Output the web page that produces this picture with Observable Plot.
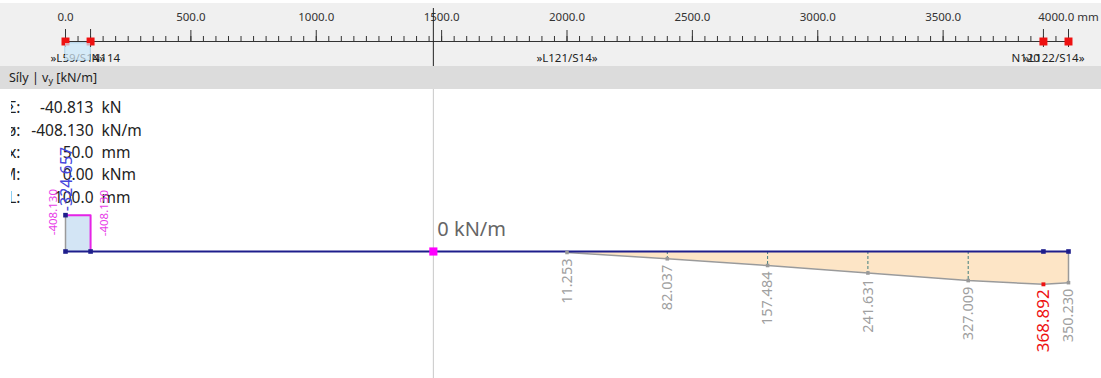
<!DOCTYPE html>
<html><head><meta charset="utf-8">
<script src="https://cdn.jsdelivr.net/npm/d3@7"></script>
<script src="https://cdn.jsdelivr.net/npm/@observablehq/plot@0.6"></script>
<style>
html,body{margin:0;padding:0;background:#fff;}
#wrap{position:relative;width:1101px;height:378px;overflow:hidden;font-family:"Noto Sans",sans-serif;}
#ruler{position:absolute;left:0;top:3px;width:1101px;height:63px;background:#f0f0f0;}
#band{position:absolute;left:0;top:66px;width:1101px;height:23px;background:#dcdcdc;font-size:12.5px;color:#222;line-height:23px;padding-left:9px;box-sizing:border-box;}
#band sub{font-size:9px;vertical-align:-2px;line-height:0;}
#chart{position:absolute;left:0;top:89px;}
#cover{position:absolute;left:0;top:94px;width:11px;height:114px;background:#fff;}
svg{overflow:visible;}
</style></head>
<body>
<div id="wrap">
  <div id="ruler"></div>
  <div id="band">Síly | v<sub>y</sub> [kN/m]</div>
  <div id="chart"></div>
  <div id="cover"></div>
</div>
<script>
// ---- data ----
const majorTicks = [0, 500, 1000, 1500, 2000, 2500, 3000, 3500, 4000];
const minorTicks = d3.range(0, 4001, 50);
const nodePos = [0, 100, 3900, 4000];
const segLabelText = ["»L59/S14»", "N114", "»L121/S14»", "N120", "»L122/S14»"];
const segLabelPos = [0, 100, 2000, 3900, 4000];
const cursorX = 1467;

const blueX = [0, 100];
const blueValue = -408.130;
const blueExtremeLabel = "-324.657";

const orangeX = [2000, 2400, 2800, 3200, 3600, 3900, 4000];
const orangeV = [11.253, 82.037, 157.484, 241.631, 327.009, 368.892, 350.230];
const orangeMaxIndex = 5;

const infoLabels = ["Σ:", "ø:", "x:", "M:", "L:"];
const infoValues = ["-40.813", "-408.130", "50.0", "0.00", "100.0"];
const infoUnits = ["kN", "kN/m", "mm", "kNm", "mm"];

// ---- derived tables ----
const orange = orangeX.map((x, i) => ({x, v: orangeV[i], i}));
const blue = [{x1: blueX[0], x2: blueX[1], v: blueValue}];
const segLabels = segLabelText.map((t, i) => ({t, x: segLabelPos[i]}));
const fmt = d => d.toFixed(3);

// ---- ruler ----
const ruler = Plot.plot({
  width: 1101, height: 63, marginLeft: 65, marginRight: 33, marginTop: 38, marginBottom: 0,
  style: {background: "transparent", fontFamily: "Noto Sans, sans-serif", overflow: "visible"},
  x: {domain: [0, 4000], label: null},
  marks: [
    Plot.rect(blue, {x1: "x1", x2: "x2", insetTop: 2, insetBottom: 6, fill: "#cfe6f7", fillOpacity: 0.85, stroke: "#8cbfe2"}),
    Plot.frame({anchor: "top", stroke: "#333"}),
    Plot.axisX(minorTicks, {anchor: "top", tickSize: 6, tickFormat: () => "", color: "#333", label: null}),
    Plot.axisX(majorTicks, {anchor: "top", tickSize: 12, tickPadding: 9, fontSize: 11.5, color: "#333", label: null,
      tickFormat: d => d === 4000 ? "4000.0 mm" : d.toFixed(1)}),
    Plot.ruleX(nodePos, {stroke: "#333", insetTop: -12, insetBottom: 19}),
    Plot.ruleX([cursorX], {stroke: "#222", insetTop: -33}),
    Plot.dot(nodePos, {x: d => d, frameAnchor: "top", symbol: "square", fill: "#ee1111", r: 4.5}),
    Plot.text(segLabels.filter(d => d.t === "»L59/S14»"), {x: "x", text: "t", frameAnchor: "top", dy: 12, dx: -15, textAnchor: "start", fontSize: 11.5, fill: "#222"}),
    Plot.rect(blue, {x1: "x1", x2: "x2", insetTop: 2, insetBottom: 6, fill: "#d6ebf8", fillOpacity: 0.7}),
    Plot.text(segLabels.filter(d => d.t === "N114"), {x: "x", text: "t", frameAnchor: "top", dy: 12, dx: 1, textAnchor: "start", fontSize: 11.5, fill: "#222"}),
    Plot.text(segLabels.filter(d => d.t === "»L121/S14»"), {x: "x", text: "t", frameAnchor: "top", dy: 12, textAnchor: "middle", fontSize: 11.5, fill: "#222"}),
    Plot.text(segLabels.filter(d => d.t === "N120"), {x: "x", text: "t", frameAnchor: "top", dy: 12, dx: -32, textAnchor: "start", fontSize: 11.5, fill: "#222"}),
    Plot.text(segLabels.filter(d => d.t === "»L122/S14»"), {x: "x", text: "t", frameAnchor: "top", dy: 12, dx: 16, textAnchor: "end", fontSize: 11.5, fill: "#222"})
  ]
});
document.getElementById("ruler").appendChild(ruler);

// ---- chart ----
const navy = "#1e1e8c";
const chart = Plot.plot({
  width: 1101, height: 289, marginLeft: 65, marginRight: 33, marginTop: 0, marginBottom: 0,
  style: {background: "transparent", fontFamily: "Noto Sans, sans-serif", overflow: "visible"},
  x: {domain: [0, 4000], axis: null},
  y: {domain: [-1820, 1427], range: [0, 289], axis: null},
  marks: [
    Plot.ruleX([cursorX], {stroke: "#c8c8c8"}),
    // info panel
    Plot.text([infoLabels.join("\n")], {frameAnchor: "top-left", dx: -45, dy: 8, textAnchor: "end", lineAnchor: "top", lineHeight: 1.44, fontSize: 15.5, fill: "#222"}),
    Plot.text([infoValues.join("\n")], {frameAnchor: "top-left", dx: 28, dy: 8, textAnchor: "end", lineAnchor: "top", lineHeight: 1.44, fontSize: 15.5, fill: "#222"}),
    Plot.text([infoUnits.join("\n")], {frameAnchor: "top-left", dx: 36, dy: 8, textAnchor: "start", lineAnchor: "top", lineHeight: 1.44, fontSize: 15.5, fill: "#222"}),
    // blue segment
    Plot.rect(blue, {x1: "x1", x2: "x2", y1: "v", y2: 0, fill: "#d3e5f5"}),
    Plot.ruleX(blue, {x: "x1", y1: "v", y2: 0, stroke: "#9a9a9a", strokeWidth: 1.5}),
    Plot.line([{x: blueX[0], v: blueValue}, {x: blueX[1], v: blueValue}, {x: blueX[1], v: 0}], {x: "x", y: "v", stroke: "#e623e6", strokeWidth: 2}),
    // orange segment
    Plot.areaY(orange, {x: "x", y1: 0, y2: "v", fill: "#fde5c6"}),
    Plot.ruleX(orange.filter(d => d.i > 0 && d.i < orangeMaxIndex), {x: "x", y1: 0, y2: "v", stroke: "#3f7d7d", strokeDasharray: "3,2"}),
    Plot.line(orange, {x: "x", y: "v", stroke: "#9a9a9a", strokeWidth: 1.5}),
    Plot.ruleX(orange.slice(-1), {x: "x", y1: 0, y2: "v", stroke: "#9a9a9a", strokeWidth: 1.5}),
    // beam
    Plot.ruleY([0], {x1: 0, x2: 4000, stroke: navy, strokeWidth: 2}),
    Plot.dot(orange.filter(d => d.i !== orangeMaxIndex), {x: "x", y: "v", symbol: "square", fill: "#999", r: 2}),
    Plot.dot(orange.filter(d => d.i === orangeMaxIndex), {x: "x", y: "v", symbol: "square", fill: "#ee1111", r: 2.2}),
    Plot.dot(nodePos, {x: d => d, y: 0, symbol: "square", fill: navy, r: 2.6}),
    Plot.dot(blue, {x: "x1", y: "v", symbol: "square", fill: navy, r: 2.6}),
    Plot.dot([cursorX], {x: d => d, y: 0, symbol: "square", fill: "#ff00ff", r: 4.6}),
    // labels
    Plot.text(orange.filter(d => d.i !== orangeMaxIndex), {x: "x", y: "v", text: d => fmt(d.v), rotate: -90, textAnchor: "end", dy: 6, fontSize: 14.5, fill: "#a0a0a0"}),
    Plot.text(orange.filter(d => d.i === orangeMaxIndex), {x: "x", y: "v", text: d => fmt(d.v), rotate: -90, textAnchor: "end", dy: 5, fontSize: 17, fill: "#ee1111"}),
    Plot.text(blue, {x: "x1", y: "v", text: d => fmt(d.v), rotate: -90, textAnchor: "middle", dx: -12.5, dy: -3, fontSize: 11.5, fill: "#e83ee8"}),
    Plot.text(blue, {x: "x2", y: "v", text: d => fmt(d.v), rotate: -90, textAnchor: "middle", dx: 13.5, dy: -2, fontSize: 11.5, fill: "#e83ee8"}),
    Plot.text(blue, {x: "x1", y: "v", text: () => blueExtremeLabel, rotate: -90, textAnchor: "start", dx: 1, dy: -4, fontSize: 16, fill: "#4646dc"}),
    Plot.text([cursorX], {x: d => d, y: 0, text: () => "0 kN/m", dx: 4, dy: -22, textAnchor: "start", fontSize: 20, fill: "#666", ariaLabel: "cursor-value"})
  ]
});
document.getElementById("chart").appendChild(chart);

// background box behind the cursor value label
(function () {
  const g = d3.select(chart).select('g[aria-label="cursor-value"]');
  const t = g.select("text").node();
  if (!t) return;
  const sr = chart.getBoundingClientRect();
  const tr = t.getBoundingClientRect();
  d3.select(chart).insert("rect", () => g.node())
    .attr("x", tr.left - sr.left - 3)
    .attr("y", tr.top - sr.top - 1)
    .attr("width", tr.width + 8)
    .attr("height", tr.height + 3)
    .attr("fill", "#ececec");
})();
</script>
</body></html>
